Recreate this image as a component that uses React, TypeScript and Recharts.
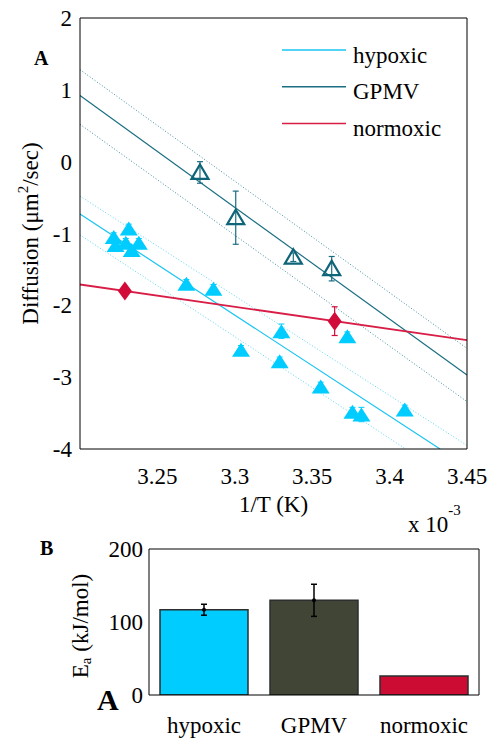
import React from 'react';
import { Bar, Cell, ComposedChart, ErrorBar, Label, Legend, Line, Scatter, XAxis, YAxis } from 'recharts';

const FONT = '"Liberation Serif", "Times New Roman", serif';
const FS = 23;

// Panel A: 1/T in units of 1e-3 K^-1, log diffusion
const X_DOMAIN: [number, number] = [3.2, 3.45];
const X_TICKS = [3.25, 3.3, 3.35, 3.4, 3.45];
const Y_DOMAIN: [number, number] = [-4, 2];
const Y_TICKS = [-4, -3, -2, -1, 0, 1, 2];

const HYPOXIC_X = [3.2218, 3.223, 3.2296, 3.2315, 3.2334, 3.238, 3.2687, 3.2862, 3.304, 3.3301, 3.329, 3.3555, 3.3727, 3.376, 3.3818, 3.4098];
const HYPOXIC_Y = [-1.05, -1.16, -1.13, -0.93, -1.23, -1.13, -1.7, -1.77, -2.62, -2.36, -2.78, -3.13, -2.43, -3.48, -3.52, -3.45];
const HYPOXIC_ERR = [0.06, 0.06, 0.06, 0.06, 0.06, 0.06, 0.06, 0.06, 0.06, 0.1, 0.06, 0.06, 0.06, 0.06, 0.1, 0.06];

const GPMV_X = [3.2775, 3.3006, 3.3378, 3.3626];
const GPMV_Y = [-0.15, -0.78, -1.33, -1.49];
const GPMV_ERR = [0.15, 0.37, 0.06, 0.17];

const NORMOXIC_X = [3.229, 3.3645];
const NORMOXIC_Y = [-1.8, -2.22];
const NORMOXIC_ERR = [0.05, 0.2];

// fitted lines and their bounds, end points only
const HYPOXIC_FIT_X = [3.2, 3.4326];
const HYPOXIC_FIT_Y = [-0.73, -4];
const HYPOXIC_UPPER_X = [3.2, 3.45];
const HYPOXIC_UPPER_Y = [-0.48, -3.95];
const HYPOXIC_LOWER_X = [3.2, 3.4104];
const HYPOXIC_LOWER_Y = [-1.02, -4];
const GPMV_FIT_X = [3.2, 3.45];
const GPMV_FIT_Y = [0.92, -2.97];
const GPMV_UPPER_Y = [1.28, -2.6];
const GPMV_LOWER_Y = [0.52, -3.34];
const NORMOXIC_FIT_X = [3.2, 3.45];
const NORMOXIC_FIT_Y = [-1.71, -2.485];

// Panel B: activation energy
const GROUPS = ['hypoxic', 'GPMV', 'normoxic'];
const EA = [116.8, 129.7, 26];
const EA_ERR = [7.5, 22, 0];
const EA_TICKS = [0, 100, 200];

const HYPOXIC_COLOR = '#00CCFF';
const HYPOXIC_LINE = '#1AC4F2';
const HYPOXIC_DOTTED = '#5CD6F5';
const GPMV_COLOR = '#0E6478';
const GPMV_LINE = '#1B6E82';
const GPMV_DOTTED = '#3D8E9E';
const NORMOXIC_COLOR = '#D20C38';
const NORMOXIC_LINE = '#D81E46';
const BAR_COLORS = ['#00CCFF', '#404535', '#CC0C33'];
const LEGEND_COLORS = [HYPOXIC_LINE, GPMV_LINE, NORMOXIC_LINE];

const TICK_STYLE = { fill: '#000', fontSize: FS, fontFamily: FONT };
const AXIS_LINE = { stroke: '#000', strokeWidth: 1 };
const TICK_LINE = { stroke: '#000', strokeWidth: 1 };

const toPoints = (xs: number[], ys: number[], errs?: number[]) =>
    xs.map((x, i) => ({ x, y: ys[i], err: errs ? errs[i] : 0 }));

const hypoxicData = toPoints(HYPOXIC_X, HYPOXIC_Y, HYPOXIC_ERR);
const gpmvData = toPoints(GPMV_X, GPMV_Y, GPMV_ERR);
const normoxicData = toPoints(NORMOXIC_X, NORMOXIC_Y, NORMOXIC_ERR);

const fitLines = [
    { key: 'gpmv-up', data: toPoints(GPMV_FIT_X, GPMV_UPPER_Y), stroke: GPMV_DOTTED, dash: '1 2', width: 1 },
    { key: 'gpmv-lo', data: toPoints(GPMV_FIT_X, GPMV_LOWER_Y), stroke: GPMV_DOTTED, dash: '1 2', width: 1 },
    { key: 'hyp-up', data: toPoints(HYPOXIC_UPPER_X, HYPOXIC_UPPER_Y), stroke: HYPOXIC_DOTTED, dash: '1 2', width: 1 },
    { key: 'hyp-lo', data: toPoints(HYPOXIC_LOWER_X, HYPOXIC_LOWER_Y), stroke: HYPOXIC_DOTTED, dash: '1 2', width: 1 },
    { key: 'gpmv', data: toPoints(GPMV_FIT_X, GPMV_FIT_Y), stroke: GPMV_LINE, dash: undefined, width: 1.2 },
    { key: 'hyp', data: toPoints(HYPOXIC_FIT_X, HYPOXIC_FIT_Y), stroke: HYPOXIC_LINE, dash: undefined, width: 1.2 },
    { key: 'norm', data: toPoints(NORMOXIC_FIT_X, NORMOXIC_FIT_Y), stroke: NORMOXIC_LINE, dash: undefined, width: 1.8 },
];

const barData = GROUPS.map((name, i) => ({ name, ea: EA[i], err: EA_ERR[i] }));

// eslint-disable-next-line @typescript-eslint/no-explicit-any
const FilledTriangle = (props: any) => {
    const { cx, cy } = props;
    if (cx == null || cy == null) return null;
    return <polygon points={`${cx},${cy - 7} ${cx + 9},${cy + 7} ${cx - 9},${cy + 7}`} fill={HYPOXIC_COLOR} />;
};

// eslint-disable-next-line @typescript-eslint/no-explicit-any
const OpenTriangle = (props: any) => {
    const { cx, cy } = props;
    if (cx == null || cy == null) return null;
    return (
        <polygon
            points={`${cx},${cy - 8} ${cx + 8.5},${cy + 6.5} ${cx - 8.5},${cy + 6.5}`}
            fill="none"
            stroke={GPMV_COLOR}
            strokeWidth={2.2}
        />
    );
};

// eslint-disable-next-line @typescript-eslint/no-explicit-any
const Diamond = (props: any) => {
    const { cx, cy } = props;
    if (cx == null || cy == null) return null;
    return <polygon points={`${cx},${cy - 9.5} ${cx + 7},${cy} ${cx},${cy + 9.5} ${cx - 7},${cy}`} fill={NORMOXIC_COLOR} />;
};

const renderLegend = () => (
    <svg width={200} height={110}>
        {GROUPS.map((name, i) => {
            const y = 12 + i * 36.7;
            return (
                <g key={name}>
                    <line x1={0} x2={64} y1={y} y2={y} stroke={LEGEND_COLORS[i]} strokeWidth={1.5} />
                    <text x={71} y={y + 12.5} fontSize={FS} fontFamily={FONT} fill="#000">{name}</text>
                </g>
            );
        })}
    </svg>
);

// eslint-disable-next-line @typescript-eslint/no-explicit-any
const DiffusionLabel = (props: any) => {
    const { viewBox } = props;
    const cx = viewBox.x + 38;
    const cy = viewBox.y + viewBox.height / 2;
    return (
        <text x={cx} y={cy} transform={`rotate(-90 ${cx} ${cy})`} textAnchor="middle" fontSize={FS} fontFamily={FONT} fill="#000">
            Diffusion (μm<tspan dy={-10} fontSize={15}>2</tspan><tspan dy={10}>/sec)</tspan>
        </text>
    );
};

// eslint-disable-next-line @typescript-eslint/no-explicit-any
const EnergyLabel = (props: any) => {
    const { viewBox } = props;
    const cx = viewBox.x + 88;
    const cy = viewBox.y + viewBox.height / 2 + 4;
    return (
        <text x={cx} y={cy} transform={`rotate(-90 ${cx} ${cy})`} textAnchor="middle" fontSize={FS} fontFamily={FONT} fill="#000">
            E<tspan dy={3} fontSize={15}>a</tspan><tspan dy={-3}> (kJ/mol)</tspan>
        </text>
    );
};

// eslint-disable-next-line @typescript-eslint/no-explicit-any
const MeanDot = (props: any) => {
    const { x, y, width, index } = props;
    if (!EA_ERR[index]) return null;
    return <circle cx={x + width / 2} cy={y} r={2} fill="#000" />;
};

const DiffusionChart = () => (
    <ComposedChart width={491} height={545} margin={{ top: 18, right: 24, bottom: 30, left: 0 }}>
        <XAxis
            xAxisId="b"
            dataKey="x"
            type="number"
            domain={X_DOMAIN}
            ticks={X_TICKS}
            allowDataOverflow
            height={66}
            tick={TICK_STYLE}
            tickLine={false}
            tickSize={0}
            tickMargin={19}
            axisLine={AXIS_LINE}
        >
            <Label value="1/T (K)" position="insideBottom" offset={3} fontSize={FS} fontFamily={FONT} fill="#000" />
        </XAxis>
        <XAxis xAxisId="bt" type="number" domain={X_DOMAIN} ticks={X_TICKS} allowDataOverflow mirror tick={false} tickSize={5} tickLine={TICK_LINE} axisLine={false} />
        <XAxis xAxisId="t" orientation="top" type="number" domain={X_DOMAIN} ticks={X_TICKS} allowDataOverflow mirror tick={false} tickSize={5} tickLine={TICK_LINE} axisLine={AXIS_LINE} />
        <YAxis
            yAxisId="l"
            dataKey="y"
            type="number"
            domain={Y_DOMAIN}
            ticks={Y_TICKS}
            allowDataOverflow
            width={80}
            tick={TICK_STYLE}
            tickLine={false}
            tickSize={0}
            tickMargin={8}
            axisLine={AXIS_LINE}
        >
            <Label content={DiffusionLabel} />
        </YAxis>
        <YAxis yAxisId="r" orientation="right" type="number" domain={Y_DOMAIN} ticks={Y_TICKS} allowDataOverflow mirror tick={false} tickSize={5} tickLine={TICK_LINE} axisLine={AXIS_LINE} />
        <Legend
            content={renderLegend}
            layout="horizontal"
            verticalAlign="middle"
            align="center"
            wrapperStyle={{ left: 282, top: 38, width: 200, height: 110 }}
        />
        {fitLines.map((l) => (
            <Line
                key={l.key}
                xAxisId="b"
                yAxisId="l"
                data={l.data}
                dataKey="y"
                stroke={l.stroke}
                strokeWidth={l.width}
                strokeDasharray={l.dash}
                dot={false}
                activeDot={false}
                legendType="none"
                isAnimationActive={false}
            />
        ))}
        <Scatter xAxisId="b" yAxisId="l" data={hypoxicData} shape={FilledTriangle} isAnimationActive={false}>
            <ErrorBar dataKey="err" direction="y" width={3} stroke={HYPOXIC_COLOR} strokeWidth={1} />
        </Scatter>
        <Scatter xAxisId="b" yAxisId="l" data={gpmvData} shape={OpenTriangle} isAnimationActive={false}>
            <ErrorBar dataKey="err" direction="y" width={3} stroke={GPMV_LINE} strokeWidth={1.2} />
        </Scatter>
        <Scatter xAxisId="b" yAxisId="l" data={normoxicData} shape={Diamond} isAnimationActive={false}>
            <ErrorBar dataKey="err" direction="y" width={3} stroke={NORMOXIC_COLOR} strokeWidth={1.2} />
        </Scatter>
    </ComposedChart>
);

const EnergyChart = () => (
    <ComposedChart width={491} height={212} data={barData} margin={{ top: 19, right: 12, bottom: 0, left: 0 }}>
        <XAxis
            dataKey="name"
            height={47}
            tick={TICK_STYLE}
            tickLine={false}
            tickSize={0}
            tickMargin={22}
            axisLine={AXIS_LINE}
        />
        <XAxis xAxisId="t" orientation="top" dataKey="name" mirror tick={false} tickSize={5} tickLine={TICK_LINE} axisLine={AXIS_LINE} />
        <YAxis
            type="number"
            domain={[0, 200]}
            ticks={EA_TICKS}
            allowDataOverflow
            width={149}
            tick={TICK_STYLE}
            tickLine={false}
            tickSize={0}
            tickMargin={6}
            axisLine={AXIS_LINE}
        >
            <Label content={EnergyLabel} />
        </YAxis>
        <YAxis yAxisId="r" orientation="right" type="number" domain={[0, 200]} ticks={EA_TICKS} allowDataOverflow mirror tick={false} tickSize={5} tickLine={TICK_LINE} axisLine={AXIS_LINE} />
        <Bar dataKey="ea" barSize={88} stroke="#2b2f2f" strokeWidth={1.5} label={MeanDot} isAnimationActive={false}>
            {barData.map((d, i) => (
                <Cell key={d.name} fill={BAR_COLORS[i]} />
            ))}
            <ErrorBar dataKey="err" direction="y" width={3} stroke="#000" strokeWidth={1.5} />
        </Bar>
    </ComposedChart>
);

const PANEL_TEXT = { fontFamily: FONT, fill: '#000' };

export default function App() {
    return (
        <div style={{ position: 'absolute', left: 0, top: 0, width: 491, height: 742, background: '#fff' }}>
            <div style={{ position: 'absolute', left: 0, top: 0 }}>
                <DiffusionChart />
            </div>
            <div style={{ position: 'absolute', left: 0, top: 530 }}>
                <EnergyChart />
            </div>
            <svg width={491} height={742} style={{ position: 'absolute', left: 0, top: 0, pointerEvents: 'none' }}>
                <text x={34} y={65} fontSize={20} fontWeight="bold" {...PANEL_TEXT}>A</text>
                <text x={40} y={555} fontSize={20} fontWeight="bold" {...PANEL_TEXT}>B</text>
                <text x={97} y={710} fontSize={30} fontWeight="bold" {...PANEL_TEXT}>A</text>
                <text x={408} y={532} fontSize={FS} {...PANEL_TEXT}>
                    x 10<tspan dy={-17} fontSize={15}>-3</tspan>
                </text>
            </svg>
        </div>
    );
}
